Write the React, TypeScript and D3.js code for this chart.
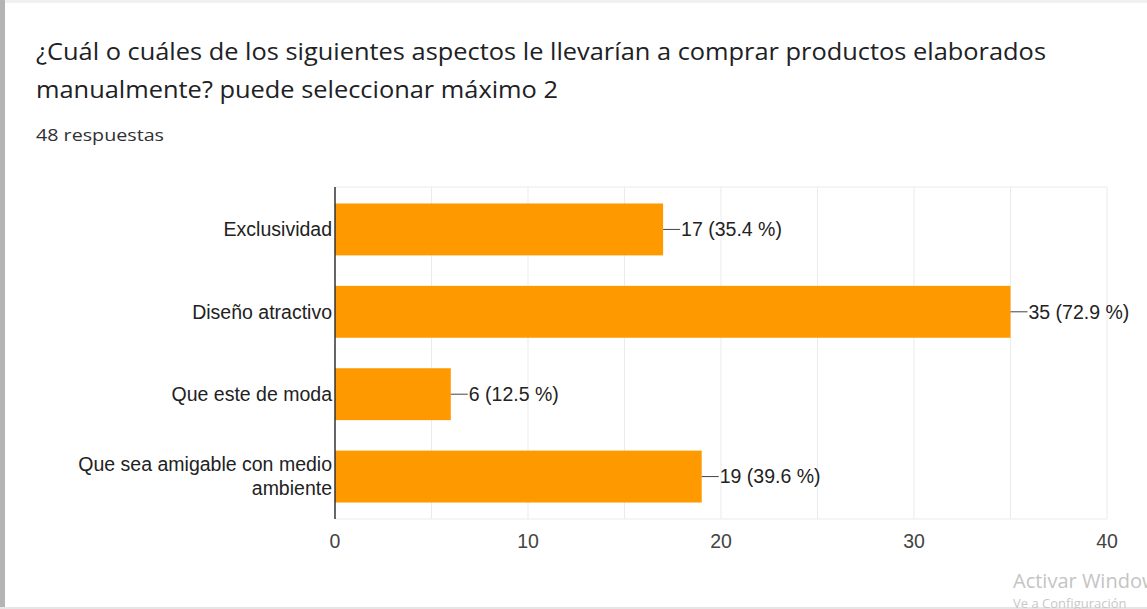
import React from "react";
import * as d3 from "d3";

const categories = ["Exclusividad", "Diseño atractivo", "Que este de moda", "Que sea amigable con medio ambiente"];
const labelLines = [["Exclusividad"], ["Diseño atractivo"], ["Que este de moda"], ["Que sea amigable con medio", "ambiente"]];
const values = [17, 35, 6, 19];
const percents = ["35.4", "72.9", "12.5", "39.6"];
const xTicks = [0, 10, 20, 30, 40];
const gridValues = [5, 10, 15, 20, 25, 30, 35, 40];

const W = 1147;
const H = 609;
const plotLeft = 335;
const plotRight = 1107;
const plotTop = 187;
const plotBottom = 519;

export default function App() {
  const x = d3.scaleLinear().domain([0, 40]).range([plotLeft, plotRight]);
  const y = d3.scaleBand<string>().domain(categories).range([plotTop, plotBottom]).paddingInner(0.37).paddingOuter(0.2);
  const labelFont = "Arial, 'Liberation Sans', sans-serif";
  const titleFont = "'Open Sans', Roboto, sans-serif";
  return (
    <svg width={W} height={H} style={{ position: "absolute", left: 0, top: 0, background: "#fff" }}>
      <rect x={0} y={0} width={W} height={H} fill="#fff" />
      <rect x={0} y={0} width={W} height={3} fill="#f1f1f1" />
      <rect x={0} y={0} width={5} height={H} fill="#b4b4b4" />
      <rect x={0} y={H - 2} width={W} height={2} fill="#e6e6e6" />
      <text x={36} y={60} fontFamily={titleFont} fontSize={23} fill="#202124" textLength={1010} lengthAdjust="spacingAndGlyphs">
        ¿Cuál o cuáles de los siguientes aspectos le llevarían a comprar productos elaborados
      </text>
      <text x={36} y={98} fontFamily={titleFont} fontSize={23} fill="#202124" textLength={522} lengthAdjust="spacingAndGlyphs">
        manualmente? puede seleccionar máximo 2
      </text>
      <text x={36} y={141} fontFamily={titleFont} fontSize={17} fill="#303134" textLength={128} lengthAdjust="spacingAndGlyphs">
        48 respuestas
      </text>
      {gridValues.map((g) => (
        <line key={g} x1={x(g)} x2={x(g)} y1={plotTop} y2={plotBottom} stroke="#ebebeb" strokeWidth={1} />
      ))}
      <line x1={plotLeft} x2={plotRight} y1={plotTop} y2={plotTop} stroke="#ebebeb" />
      <line x1={plotLeft} x2={plotRight} y1={plotBottom} y2={plotBottom} stroke="#ebebeb" />
      {categories.map((c, i) => {
        const by = y(c)!;
        const bh = y.bandwidth();
        const cy = by + bh / 2;
        const xe = x(values[i]);
        const lines = labelLines[i];
        return (
          <g key={c}>
            <rect x={plotLeft} y={by} width={xe - plotLeft} height={bh} fill="#ff9900" />
            <line x1={xe} x2={xe + 17} y1={cy} y2={cy} stroke="#444" strokeWidth={1} />
            <text x={xe + 18} y={cy} dy="0.35em" fontFamily={labelFont} fontSize={19.5} fill="#222">
              {`${values[i]} (${percents[i]} %)`}
            </text>
            {lines.map((l, j) => (
              <text
                key={j}
                x={plotLeft - 3}
                y={cy + (j - (lines.length - 1) / 2) * 24}
                dy="0.35em"
                textAnchor="end"
                fontFamily={labelFont}
                fontSize={19.5}
                fill="#222"
              >
                {l}
              </text>
            ))}
          </g>
        );
      })}
      <line x1={plotLeft} x2={plotLeft} y1={plotTop} y2={plotBottom} stroke="#333" strokeWidth={1.5} />
      {xTicks.map((t) => (
        <text key={t} x={x(t)} y={548} textAnchor="middle" fontFamily={labelFont} fontSize={19.5} fill="#444">
          {t}
        </text>
      ))}
      <text x={1013} y={588} fontFamily="'Open Sans', sans-serif" fontSize={20} fill="#c4c4c4">
        Activar Windows
      </text>
      <text x={1013} y={608} fontFamily="'Open Sans', sans-serif" fontSize={13} fill="#c8c8c8">
        Ve a Configuración
      </text>
    </svg>
  );
}
